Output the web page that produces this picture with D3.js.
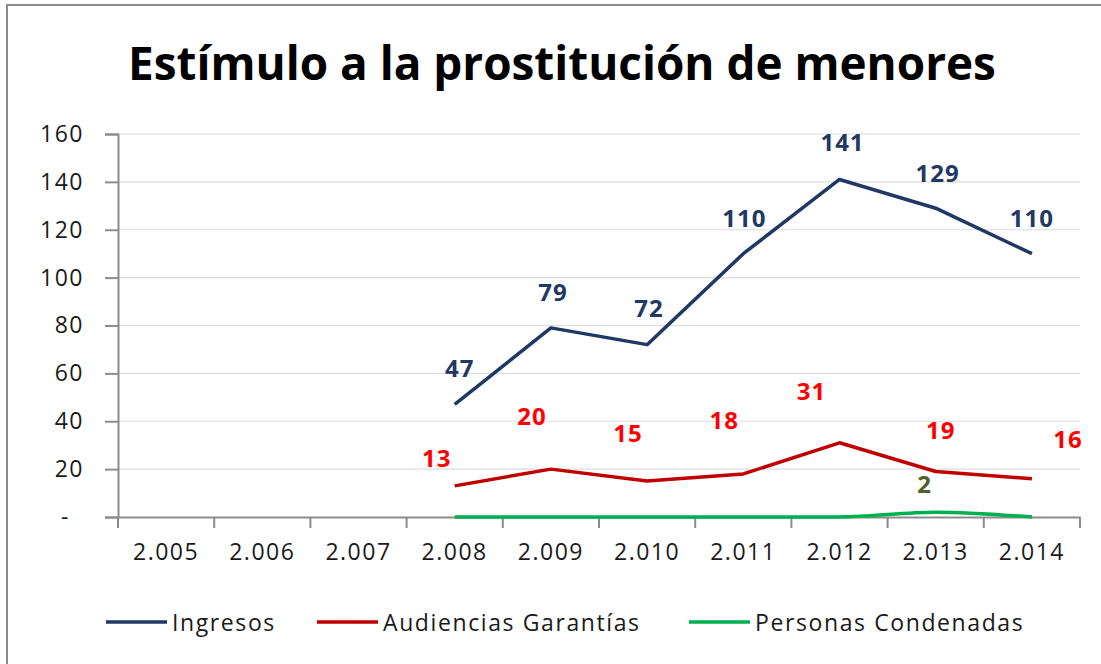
<!DOCTYPE html>
<html>
<head>
<meta charset="utf-8">
<script src="https://cdn.jsdelivr.net/npm/d3@7"></script>
<style>
  html, body { margin: 0; padding: 0; background: #fff; }
  svg { display: block; font-family: "Open Sans", "DejaVu Sans", sans-serif; }
</style>
</head>
<body>
<svg id="chart" width="1101" height="664"></svg>
<script>
// chart values
const years = ["2.005", "2.006", "2.007", "2.008", "2.009", "2.010", "2.011", "2.012", "2.013", "2.014"];
const ingresos = [null, null, null, 47, 79, 72, 110, 141, 129, 110];
const audiencias = [null, null, null, 13, 20, 15, 18, 31, 19, 16];
const condenadas = [null, null, null, 0, 0, 0, 0, 0, 2, 0];
const yTicks = [0, 20, 40, 60, 80, 100, 120, 140, 160];
const seriesNames = ["Ingresos", "Audiencias Garantías", "Personas Condenadas"];

// where Excel left the data labels (px offset from the point)
const blueNudge = [null, null, null, [5, -37], [2, -36], [2, -37], [1, -36], [3, -38], [2, -36], [0, -36]];
const redNudge = [null, null, null, [-18, -28], [-19, -54], [-19, -49], [-19, -54], [-28, -52], [5, -42], [36, -40]];
const greenNudge = [null, null, null, null, null, null, null, null, [-11, -29], null];

const svg = d3.select("#chart");
const W = 1101, H = 664;
const plotL = 118, plotR = 1080, plotT = 134, plotB = 517;

// outer frame
svg.append("rect")
   .attr("x", 7).attr("y", 5)
   .attr("width", W + 10).attr("height", H + 10)
   .style("fill", "#fff")
   .style("stroke", "#8c8c8c")
   .style("stroke-width", 2);

// title, fit to the width it has in the picture
const title = svg.append("text")
   .attr("x", 562).attr("y", 80)
   .attr("text-anchor", "middle")
   .style("font-weight", "bold")
   .style("font-size", "44px")
   .style("fill", "#000")
   .text("Estímulo a la prostitución de menores");
const tw = title.node().getComputedTextLength();
title.style("font-size", (44 * 868 / tw) + "px");

const x = d3.scaleBand().domain(years).range([plotL, plotR]);
const y = d3.scaleLinear().domain([0, 160]).range([plotB, plotT]);
const cx = d => x(d) + x.bandwidth() / 2;

// gridlines
svg.append("g").selectAll("line")
   .data(yTicks.filter(d => d > 0))
   .enter().append("line")
   .attr("x1", plotL).attr("x2", plotR)
   .attr("y1", d => y(d)).attr("y2", d => y(d))
   .style("stroke", "#dcdcdc")
   .style("stroke-width", 1.2);

// y axis
const yAxis = svg.append("g")
   .attr("transform", `translate(${plotL},0)`)
   .call(d3.axisLeft(y).tickValues(yTicks).tickSize(13).tickPadding(21)
         .tickFormat(d => d === 0 ? "-" : d));
yAxis.select(".domain").style("stroke", "#8c8c8c").style("stroke-width", 2);
yAxis.selectAll(".tick line").style("stroke", "#8c8c8c").style("stroke-width", 2);
yAxis.selectAll(".tick text")
   .style("font-size", "23px").style("fill", "#1a1a1a")
   .style("letter-spacing", "1.5px")
   .style("font-family", "'Open Sans', sans-serif");
// excel accounting format leaves the dash a bit left
yAxis.selectAll(".tick text").filter(d => d === 0).attr("dx", -14);

// x axis: labels at category centres, ticks on category boundaries
const xAxis = svg.append("g")
   .attr("transform", `translate(0,${plotB})`)
   .call(d3.axisBottom(x).tickSize(0).tickPadding(27));
xAxis.select(".domain").style("stroke", "#8c8c8c").style("stroke-width", 2);
xAxis.selectAll(".tick text")
   .style("font-size", "23px").style("fill", "#1a1a1a")
   .style("letter-spacing", "1.5px")
   .style("font-family", "'Open Sans', sans-serif");
xAxis.selectAll("line.bound")
   .data(years.concat(["end"]))
   .enter().append("line")
   .attr("class", "bound")
   .attr("x1", (d, i) => plotL + i * x.step())
   .attr("x2", (d, i) => plotL + i * x.step())
   .attr("y1", 0).attr("y2", 11)
   .style("stroke", "#8c8c8c")
   .style("stroke-width", 2);

const series = [
  { name: seriesNames[0], values: ingresos, color: "#1f3864", label: "#1f3864", nudge: blueNudge },
  { name: seriesNames[1], values: audiencias, color: "#c00000", label: "#ff0000", nudge: redNudge },
  { name: seriesNames[2], values: condenadas, color: "#00b050", label: "#4f6228", nudge: greenNudge }
];

const line = d3.line()
   .defined(d => d.v !== null)
   .x(d => cx(d.year))
   .y(d => y(d.v));

// green first, red, then blue on top
series.slice().reverse().forEach(s => {
  const pts = years.map((yr, i) => ({ year: yr, v: s.values[i] }));
  svg.append("path")
     .datum(pts)
     .attr("d", s.name === seriesNames[2] ? line.curve(d3.curveMonotoneX)(pts) : line.curve(d3.curveLinear)(pts))
     .style("fill", "none")
     .style("stroke", s.color)
     .style("stroke-width", 3.5)
     .style("stroke-linejoin", "round");
});

// data labels
series.forEach(s => {
  svg.append("g").selectAll("text")
     .data(years.map((yr, i) => ({ year: yr, v: s.values[i], n: s.nudge[i] })).filter(d => d.n))
     .enter().append("text")
     .attr("x", d => cx(d.year) + d.n[0])
     .attr("y", d => y(d.v) + d.n[1])
     .attr("text-anchor", "middle")
     .attr("dominant-baseline", "central")
     .style("font-size", "24px")
     .style("font-weight", "bold")
     .style("letter-spacing", "1px")
     .style("fill", s.label)
     .text(d => d.v);
});

// legend
const legendX = [106, 317, 689];
const leg = svg.append("g").selectAll("g")
   .data(series)
   .enter().append("g")
   .attr("transform", (d, i) => `translate(${legendX[i]},622)`);
leg.append("line")
   .attr("x1", 0).attr("x2", 61)
   .attr("y1", 0).attr("y2", 0)
   .style("stroke", d => d.color)
   .style("stroke-width", 3.5);
leg.append("text")
   .attr("x", 66)
   .attr("dominant-baseline", "central")
   .style("font-size", "23px")
   .style("letter-spacing", "1.6px")
   .style("fill", "#1a1a1a")
   .text(d => d.name);
</script>
</body>
</html>
